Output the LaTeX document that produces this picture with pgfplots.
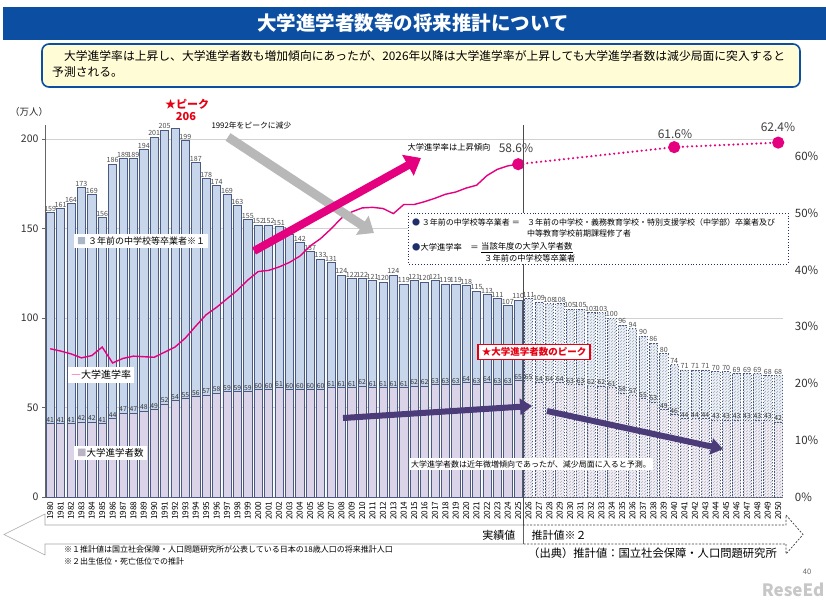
\documentclass[border=0pt]{standalone}
\usepackage{pgfplots}
\pgfplotsset{compat=1.18}
\usepackage{pgfplotstable}
\usepackage{fontspec}
\setmainfont{Noto Sans CJK JP}
\usetikzlibrary{patterns,arrows.meta}

\definecolor{titleblue}{HTML}{0B4EA2}
\definecolor{boxyellow}{HTML}{FFFCD6}
\definecolor{gradfill}{HTML}{C7D6EB}
\definecolor{entfill}{HTML}{DBD3E7}
\definecolor{baredge}{HTML}{4B5A80}
\definecolor{rate}{HTML}{E5007F}
\definecolor{darkpurple}{HTML}{4B3B78}
\definecolor{peakred}{HTML}{E60012}
\definecolor{navybox}{HTML}{1F2F6B}
\newcommand\fs[1]{\fontsize{#1}{#1}\selectfont}

% 3年前の中学校等卒業者 (grad) と大学進学者数 (ent), 万人
\pgfplotstableread{
year grad ent glab
1980 159 41 159
1981 161 41 161
1982 164 41 164
1983 173 42 173
1984 169 42 169
1985 156 41 156
1986 186 44 186
1987 189 47 189
1988 189 47 189
1989 194 48 194
1990 201 49 201
1991 205 52 205
1992 206 54 {}
1993 199 55 199
1994 187 56 187
1995 178 57 178
1996 174 58 174
1997 169 59 169
1998 163 59 163
1999 155 59 155
2000 152 60 152
2001 152 60 152
2002 151 61 151
2003 147 60 147
2004 142 60 142
2005 137 60 137
2006 133 60 133
2007 131 61 131
2008 124 61 124
2009 122 61 122
2010 122 62 122
2011 121 61 121
2012 120 61 120
2013 124 61 124
2014 119 61 119
2015 121 62 121
2016 120 62 120
2017 121 63 121
2018 119 63 119
2019 119 63 119
2020 118 64 118
2021 115 63 115
2022 113 64 113
2023 111 63 111
2024 107 63 107
2025 110 65 110
}\actualdata

% 推計値
\pgfplotstableread{
year grad ent
2026 111 65
2027 109 64
2028 108 64
2029 108 64
2030 105 63
2031 105 63
2032 103 62
2033 103 62
2034 100 61
2035 96 58
2036 94 57
2037 90 55
2038 86 53
2039 80 49
2040 74 46
2041 71 44
2042 71 44
2043 71 44
2044 70 43
2045 70 43
2046 69 43
2047 69 43
2048 69 43
2049 68 43
2050 68 42
}\projdata

% 大学進学率 (%)
\pgfplotstableread{
year rate
1980 26.1
1981 25.7
1982 25.2
1983 24.5
1984 24.9
1985 26.4
1986 23.6
1987 24.4
1988 24.8
1989 24.7
1990 24.6
1991 25.5
1992 26.4
1993 28.0
1994 30.1
1995 32.1
1996 33.4
1997 34.9
1998 36.4
1999 38.2
2000 39.7
2001 39.9
2002 40.5
2003 41.3
2004 42.4
2005 44.2
2006 45.5
2007 47.2
2008 49.1
2009 50.2
2010 50.9
2011 51.0
2012 50.8
2013 49.9
2014 51.5
2015 51.5
2016 52.0
2017 52.6
2018 53.3
2019 53.7
2020 54.4
2021 54.9
2022 56.6
2023 57.7
2024 58.3
2025 58.6
}\ratedata

\begin{document}
\begin{tikzpicture}
\fill[white] (0,0) rectangle (826pt,599pt);
\path[use as bounding box] (0,0) rectangle (826pt,599pt);

\pgfplotsset{
  common/.style={
    at={(45pt,102pt)}, anchor=south west,
    width=738.4pt, height=372pt, scale only axis,
    xmin=1979.5, xmax=2050.5, clip=false,
  },
  lab/.style={nodes near coords, point meta=explicit symbolic,
    every node near coord/.append style={font=\fs{7.1}, text=black!70, inner sep=0.8pt}},
}

\begin{axis}[common,
  ymin=0, ymax=207.8,
  axis x line*=bottom, axis y line*=left,
  axis line style={black!60},
  xtick={1980,...,2050},
  xticklabel={\pgfmathparse{int(round(\tick))}\pgfmathresult},
  x tick style={draw=none},
  xticklabel style={rotate=90, anchor=east, font=\fs{8.2}, inner sep=1.5pt},
  ytick={0,50,...,200},
  yticklabel={\pgfmathparse{int(round(\tick))}\pgfmathresult},
  y tick style={black!60},
  tick align=outside, major tick length=3pt,
  yticklabel style={font=\fs{10.5}, text=black!80},
  ymajorgrids, grid style={black!18, line width=0.6pt},
]
% 実績値
\addplot[ybar, bar width=0.8, bar shift=0pt, fill=gradfill, draw=baredge, line width=0.6pt, lab]
  table[x=year, y=grad, meta=glab]{\actualdata};
\addplot[ybar, bar width=0.8, bar shift=0pt, fill=entfill, draw=baredge, line width=0.6pt, lab,
  every node near coord/.append style={font=\fs{6.8}, text=black!80}]
  table[x=year, y=ent, meta=ent]{\actualdata};
% 推計値
\addplot[ybar, bar width=0.8, bar shift=0pt, fill=gradfill!30, draw=baredge,
  line width=0.6pt, dash pattern=on 1.6pt off 1.4pt,
  postaction={pattern=north east lines, pattern color=gradfill!70!black!80}, lab]
  table[x=year, y=grad, meta=grad]{\projdata};
\addplot[ybar, bar width=0.8, bar shift=0pt, fill=entfill!35, draw=baredge,
  line width=0.6pt, dash pattern=on 1.6pt off 1.4pt,
  postaction={pattern=north east lines, pattern color=entfill!75!black!80}, lab,
  every node near coord/.append style={font=\fs{6.8}, text=black!80}]
  table[x=year, y=ent, meta=ent]{\projdata};
\end{axis}

\begin{axis}[common,
  ymin=0, ymax=65.5,
  axis x line=none, axis y line*=right,
  axis line style={draw=none},
  ytick={0,10,...,60},
  major tick length=0pt,
  yticklabel={\pgfmathparse{int(round(\tick))}\pgfmathresult\%},
  yticklabel style={font=\fs{11.5}, text=black!80, xshift=8pt},
]
\addplot[rate, line width=1.4pt] table[x=year, y=rate]{\ratedata};
\addplot[rate, line width=2.4pt, dash pattern=on 0pt off 4.6pt, line cap=round,
  mark=*, mark size=4.8pt, mark options={solid, fill=rate, draw=rate}]
  coordinates {(2025,58.6) (2040,61.6) (2050,62.4)};
\end{axis}

\begin{scope}[x=1pt, y=-1pt, yshift=599pt]
% 見出し
\fill[titleblue] (3,7) rectangle (826,40);
\node[text=white, font=\fs{19.5}\bfseries] at (413,23.5) {大学進学者数等の将来推計について};
\draw[titleblue, line width=1.6pt, fill=boxyellow, rounded corners=7pt] (42,44) rectangle (800,87);
\node[anchor=north west, align=left, font=\fontsize{11.8}{16.5}\selectfont, inner sep=0pt]
  at (52,50) {　大学進学率は上昇し、大学進学者数も増加傾向にあったが、2026年以降は大学進学率が上昇しても大学進学者数は減少局面に突入すると\\予測される。};

\node[font=\fs{9.5}, text=black!85] at (29,112) {（万人）};

% ピーク
\node[text=peakred, font=\fs{11}\bfseries] at (187,104) {★ピーク};
\node[text=peakred, font=\fs{11}\bfseries] at (186,117) {206};

% 矢印
\node[anchor=west, font=\fs{7.8}] at (208,126) {1992年をピークに減少};
\draw[black!28, line width=9pt, -{Triangle[length=14pt, width=22pt]}] (228,137) -- (374,233);
\draw[rate, line width=8pt, -{Triangle[length=15pt, width=23pt]}] (254,251) -- (421,158);
\node[anchor=west, font=\fs{8.3}] at (404,147) {大学進学率は上昇傾向};

% 率のラベル
\node[font=\fs{12}, text=black!75] at (516,148) {58.6\%};
\node[font=\fs{12}, text=black!75] at (675,134) {61.6\%};
\node[font=\fs{12}, text=black!75] at (778,127) {62.4\%};

% 実績値と推計値の境
\draw[black!70, line width=0.8pt] (523.5,125) -- (523.5,544);

% 定義
\draw[navybox, line width=0.9pt, dotted, fill=white] (408,213) rectangle (788,264);
\node[anchor=west, font=\fs{8}, inner sep=0pt] at (412,222) {\textcolor{navybox}{●} ３年前の中学校等卒業者 ＝};
\node[anchor=west, font=\fs{8}, inner sep=0pt] at (527,222) {３年前の中学校・義務教育学校・特別支援学校（中学部）卒業者及び};
\node[anchor=west, font=\fs{8}, inner sep=0pt] at (527,233) {中等教育学校前期課程修了者};
\node[anchor=west, font=\fs{8.3}, inner sep=0pt] at (412,247) {\textcolor{navybox}{●}大学進学率　＝};
\node[anchor=west, font=\fs{8.3}, inner sep=0pt] at (481,246.5) {当該年度の大学入学者数};
\draw[black, line width=0.5pt] (481,252.5) -- (573,252.5);
\node[anchor=west, font=\fs{8.3}, inner sep=0pt] at (484,258.5) {３年前の中学校等卒業者};

% 凡例
\node[fill=white, anchor=west, font=\fs{9}, inner sep=3pt] at (74,241) {\textcolor{gradfill!85!black}{■} ３年前の中学校等卒業者※１};
\node[fill=white, anchor=west, font=\fs{10}, inner sep=3pt] at (68,375) {\textcolor{rate}{―}大学進学率};
\node[fill=white, anchor=west, font=\fs{9.5}, inner sep=3pt] at (74,453) {\textcolor{entfill!85!black}{■}大学進学者数};

% 進学者数のピーク
\node[draw=peakred, line width=1.6pt, fill=white, text=peakred, font=\fs{9.5}\bfseries,
  inner xsep=4pt, inner ysep=3pt] at (534,352) {★大学進学者数のピーク};
\draw[darkpurple, line width=6pt, -{Triangle[length=12pt, width=16pt]}] (343,418) -- (532,406);
\draw[darkpurple, line width=6pt, -{Triangle[length=12pt, width=16pt]}] (547,411) -- (723,449);
\node[fill=white, anchor=west, font=\fs{8}, inner sep=2pt] at (409,464) {大学進学者数は近年微増傾向であったが、減少局面に入ると予測。};

% 実績値・推計値の帯
\draw[black!35, line width=0.6pt, fill=white] (523,525) -- (45,525) -- (45,514) -- (4,534.5) -- (45,555) -- (45,544) -- (523,544);
\draw[black!75, line width=0.7pt, dash pattern=on 2pt off 1.5pt] (523,525) -- (786,525) -- (786,515) -- (803,534.5) -- (786,554) -- (786,544) -- (523,544);
\node[anchor=east, font=\fs{11}] at (519,535) {実績値};
\node[anchor=west, font=\fs{11}] at (528,535) {推計値※２};

% 注
\node[anchor=west, font=\fs{8}, inner sep=0pt] at (64,549) {※１推計値は国立社会保障・人口問題研究所が公表している日本の18歳人口の将来推計人口};
\node[anchor=west, font=\fs{8}, inner sep=0pt] at (64,561) {※２出生低位・死亡低位での推計};
\node[anchor=west, font=\fs{11.3}, inner sep=0pt] at (528,553) {（出典）推計値：国立社会保障・人口問題研究所};

\node[font=\fs{7.5}, text=black!60] at (807,572) {40};
\node[font=\fs{17}\bfseries, text=black!22] at (793,590) {ReseEd};
\end{scope}
\end{tikzpicture}
\end{document}
